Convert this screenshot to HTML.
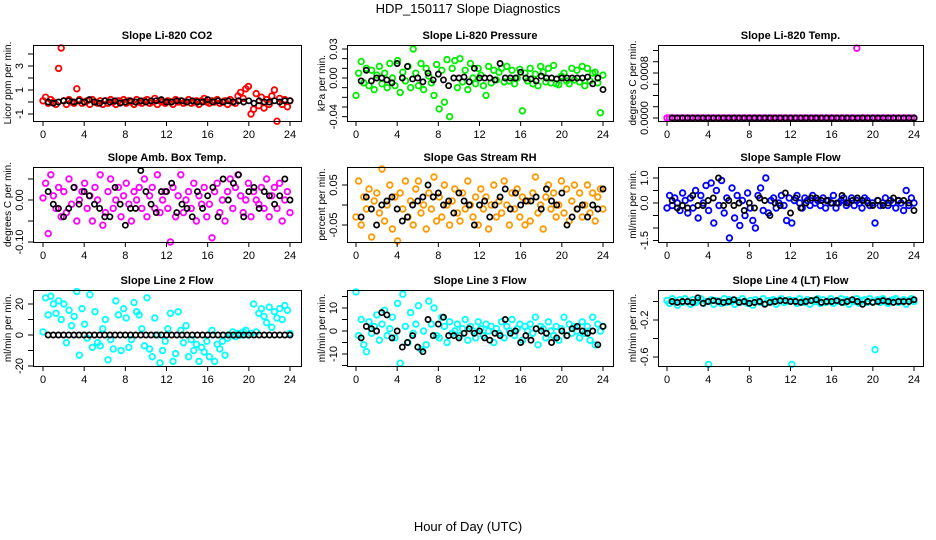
<!DOCTYPE html>
<html><head><meta charset="utf-8"><style>
body{margin:0;background:#fff;}
svg{display:block;font-family:"Liberation Sans",sans-serif;}
</style></head><body>
<svg id="chart" width="936" height="540">
<text x="468" y="13" text-anchor="middle" font-size="13">HDP_150117  Slope Diagnostics</text>
<text x="468" y="531" text-anchor="middle" font-size="13">Hour of Day (UTC)</text>
</svg>
<script>
// ---- data (colored = all slopes, black = hourly/half-hourly points) ----
const xTicks = [0,4,8,12,16,20,24];
const co2Color = [0.1,0.4,-0.1,0.2,0,-0.2,2.8,4.5, 0.1,-0.2,0.2,0,-0.1,1.1,0.2,-0.1, 0,0.1,-0.2,0.2,0,-0.1,0.1,-0.2, 0.1,-0.1,0.2,0,-0.2,0.1,0,0.2, -0.1,0.1,0,-0.2,0.2,0,-0.1,0.1, 0.2,-0.1,0,0.3,-0.2,0.1,0,-0.1, 0.1,0,-0.2,0.2,0,0.1,-0.1,0, 0.2,-0.1,0,0.1,-0.2,0.1,0.3,0, -0.1,0.1,0,0.2,-0.1,0,0.1,-0.2, 0.2,0,-0.1,0.5,0.8,0.3,1.1,1.3, -1.0,-0.6,0.7,-0.3,0.4,-0.5,0.2,-0.2, 0.5,1.0,-1.6,0.3,-0.2,0.2,-0.4,0.1];
const co2Black = [0,-0.1,0,0.1,0.1,0,0.1,0,0.2,0,-0.1,0.1,0,0.1,-0.1,0,0.1,0,0.1,0,0.1,0.1,0.2,0,0,0.1,0.1,0,0.1,0,0,0.2,0,0.1,0,0.1,0,0.1,0,0.1,-0.1,0.1,0,0,0.1,0,0.1,0.1];
const presColor = [-18,5,17,-5,10,-8,8,-12, 3,12,-6,5,-10,15,0,-8, 18,-15,6,-3,12,-10,30,5, -8,15,-12,10,2,-5,-18,14, -32,8,-25,19,-40,10,18,-10, 20,-4,8,-12,15,0,-6,10, 3,-8,-18,12,-5,8,-2,6, 10,-4,12,-3,8,-6,0,9, -34,5,-3,10,-6,4,-8,12, 6,-4,10,-5,13,-6,-7,2, 5,-3,-6,10,-2,8,-4,12, -8,10,-3,5,6,-5,-36,3];
const presBlack = [-3,8,-3,0,0,-2,-5,15,0,12,-1,0,-4,5,-2,4,-2,-8,0,0,1,-4,10,0,0,0,-2,15,0,0,0,6,0,-1,-3,2,0,0,-1,0,0,0,0,0,1,-6,0,-12];
const tempColor = [0,0,0,0,0,0,0,0,0,0,0,0,0,0,0,0,0,0,0,0,0,0,0,0,0,0,0,0,0,0,0,0,0,0,0,0,0,0,0,0,0,0,0,0,0,0,0,0,0,0,0,0,0,0,0,0,0,0,0,0,0,0,0,0,0,0,0,0,0,0,0,0,0,0.00124,0,0,0,0,0,0,0,0,0,0,0,0,0,0,0,0,0,0,0,0,0,0];
const tempBlack = [0,0,0,0,0,0,0,0,0,0,0,0,0,0,0,0,0,0,0,0,0,0,0,0,0,0,0,0,0,0,0,0,0,0,0,0,0,0,0,0,0,0,0,0,0,0,0,0];
const ambColor = [0.5,4,-8,6,1,-2,3,-4, 2,-3,5,-1,3,-5,0,2, 4,-2,1,-5,3,0,6,-6, -3,2,5,-2,0,3,-4,1, 4,-1,-5,2,0,3,-2,5, -4,1,3,-2,6,-3,0,2, -2,-10,3,-4,1,6,-3,0, 2,-2,4,-5,1,-1,3,-4, -1,-9,2,4,-3,0,-5,2, 5,-2,3,6,1,-3,0,4, -4,2,0,-1,3,-2,5,-4, 1,3,-2,4,-5,0,2,-3];
const ambBlack = [2,-1,-2,-4,-2,3,-1,2,1,-1,-2,-4,-4,3,-1,-6,-2,-2,7,2,-1,-3,2,2,4,-3,-1,-2,-4,2,-2,1,3,-4,5,0,4,6,-4,2,3,-2,2,1,-1,1,5,0];
const rhColor = [-3,6,-5,2,-1,4,-8,1, 3,-2,9,-4,0,5,-6,2, -9,3,-1,6,-3,1,-5,4, 6,-2,0,-6,3,-1,7,-4, 2,-3,5,0,-5,1,4,-2, -4,3,-1,6,0,-3,2,-5, 4,-1,2,-6,0,5,-3,1, -2,6,0,-5,3,-1,4,-3, 2,-5,1,-4,3,7,-2,0, -6,2,5,-1,3,-3,0,6, -2,4,-4,1,5,-1,3,-3, 0,5,-2,3,-4,2,4,-1];
const rhBlack = [-3,2,-1,-5,0,1,2,-1,-4,-3,0,1,2,5,2,3,0,1,-2,3,1,0,-5,0,1,-3,0,2,4,-1,3,0,1,1,2,-1,4,1,0,3,-5,-3,-1,0,-3,0,-1,4];
const sampColor = [-2,3,-1,2,0,-3,4,1, -4,2,-2,5,-6,3,0,7, -3,8,-8,5,-1,9,-4,2, -14,6,-6,3,-9,1,-5,4, -2,-7,-10,3,6,-3,10,-4, 1,2,-2,0,3,-1,-7,2, -8,1,3,0,-2,2,1,-1, 3,0,1,-1,2,-2,1,0, 3,-2,0,1,2,-1,0,2, -1,1,0,-2,2,1,-1,0, -8,1,-1,0,2,-1,1,0, -2,1,0,-3,5,-1,2,0];
const sampBlack = [1,-2,-1,-2,3,-1,-1,1,2,10,-1,1,-1,0,-3,0,-2,2,1,-5,0,-1,4,-4,2,-2,0,2,2,1,1,0,0,3,0,1,2,1,0,-1,1,-1,0,2,1,1,0,-3];
const l2Color = [2,24,13,25,20,14,22,10, 20,-5,16,6,12,28,-13,17, 7,-2,26,-8,15,-5,-7,4, 10,-16,-3,-9,22,13,-10,17, 11,-8,-3,21,15,13,4,-7, 24,-9,-14,11,0,-18,-10,-4, 4,14,-17,-12,15,3,-5,6, -14,-3,-10,-6,-17,-8,-11,-4, -14,3,-17,-6,-9,-4,-13,-2, 0,2,-1,1,0,2,3,0, 1,20,2,14,17,12,8,18, 5,15,11,17,10,19,16,1];
const l2Black = [0,0,0,0,0,0,0,0,0,0,0,0,0,0,0,0,0,0,0,0,0,0,0,0,0,0,0,0,0,0,0,0,0,0,0,0,0,0,0,0,0,0,0,0,0,0,0,0];
const l3Color = [17,-2,5,-6,-9,4,-1,2, 7,-4,3,9,-2,1,6,-3, 12,-14,16,2,-5,8,-1,3, 11,-8,0,-6,13,3,10,-2, -3,6,2,-5,4,-1,0,3, -2,1,5,-4,2,0,-3,4, 1,-2,3,0,2,-5,1,-1, 4,-3,2,0,5,-2,1,3, -4,2,0,3,-1,6,-6,2, 1,-3,4,0,-2,2,-4,1, 6,-2,3,-1,2,0,-3,4, -1,2,-4,6,-6,3,0,2];
const l3Black = [-3,2,1,0,8,7,-3,0,-7,-5,-2,-7,-9,5,-2,3,6,-2,-2,-3,-1,1,-1,0,-3,-4,-1,-2,5,-1,0,-5,-2,-4,1,0,-1,-5,-3,0,-2,1,2,0,-1,0,-6,2];
const l4Color = [1,-2,3,0,-4,2,-1,3, 0,-3,2,-1,1,3,-2,0, -68,2,-3,1,0,-2,3,-1, 2,0,-3,1,-1,3,0,-2, 1,-4,2,0,-1,3,-2,1, 0,2,-3,1,3,-1,0,2, -68,1,-2,3,0,-1,2,-3, 1,0,3,-2,2,-1,0,3, -2,1,0,3,-1,2,-3,1, 0,3,-2,1,2,-1,3,0, -52,2,-1,3,0,-2,1,2, 3,-1,0,2,-3,1,3,0];
const l4Black = [0,-1,0,0,-1,4,-2,0,1,0,-1,0,2,-1,0,-2,-1,0,-3,-1,0,1,1,0,0,-1,0,1,2,-1,0,0,1,-1,0,2,0,-3,0,-1,0,1,0,-1,0,0,0,2];

// ---- layout (positions only) ----
const cols=[{l:33,r:301,x0:43,x24:290},{l:347,r:613,x0:356,x24:603},{l:658,r:923,x0:667,x24:914}];
const rows=[{t:45,b:121},{t:167,b:242},{t:290,b:366}];
const panels=[
 {name:'co2',title:'Slope Li-820 CO2',yl:'Licor ppm per min.',c:0,r:0,col:'#ff0000',cv:co2Color,bv:co2Black,s:1,vA:-1,yA:114,vB:3,yB:66,ticks:[-1,0,1,2,3,4],labs:[-1,1,3],fmt:v=>String(v)},
 {name:'pressure',title:'Slope Li-820 Pressure',yl:'kPa per min.',c:1,r:0,col:'#00ee00',cv:presColor,bv:presBlack,s:0.001,vA:0,yA:78,vB:0.03,yB:49,ticks:[-0.04,-0.03,-0.02,-0.01,0,0.01,0.02,0.03],labs:[-0.04,0,0.03],fmt:v=>v.toFixed(2)},
 {name:'li820-temp',title:'Slope Li-820 Temp.',yl:'degrees C per min.',c:2,r:0,col:'#ff00ff',cv:tempColor,bv:tempBlack,s:1,vA:0,yA:118,vB:0.0008,yB:73,ticks:[0,0.0002,0.0004,0.0006,0.0008,0.001,0.0012],labs:[0,0.0008],fmt:v=>v.toFixed(4)},
 {name:'amb-box-temp',title:'Slope Amb. Box Temp.',yl:'degrees C per min.',c:0,r:1,col:'#ff00ff',cv:ambColor,bv:ambBlack,s:0.01,vA:0,yA:200,vB:-0.1,yB:242,ticks:[-0.1,-0.05,0,0.05],labs:[-0.1,0],fmt:v=>v.toFixed(2)},
 {name:'gas-stream-rh',title:'Slope Gas Stream RH',yl:'percent per min.',c:1,r:1,col:'#ff9900',cv:rhColor,bv:rhBlack,s:0.01,vA:0,yA:205,vB:0.05,yB:185,ticks:[-0.05,0,0.05],labs:[-0.05,0.05],fmt:v=>v.toFixed(2)},
 {name:'sample-flow',title:'Slope Sample Flow',yl:'ml/min per min.',c:2,r:1,col:'#0000ff',cv:sampColor,bv:sampBlack,s:0.1,vA:0,yA:203,vB:1,yB:178,ticks:[-1.5,-1,-0.5,0,0.5,1],labs:[-1.5,0,1],fmt:v=>v.toFixed(1)},
 {name:'line2-flow',title:'Slope Line 2 Flow',yl:'ml/min per min.',c:0,r:2,col:'#00ffff',cv:l2Color,bv:l2Black,s:1,vA:0,yA:335,vB:20,yB:304,ticks:[-20,-10,0,10,20],labs:[-20,0,20],fmt:v=>String(v)},
 {name:'line3-flow',title:'Slope Line 3 Flow',yl:'ml/min per min.',c:1,r:2,col:'#00ffff',cv:l3Color,bv:l3Black,s:1,vA:0,yA:331,vB:10,yB:308,ticks:[-15,-10,-5,0,5,10,15],labs:[-10,0,10],fmt:v=>String(v)},
 {name:'line4-flow',title:'Slope Line 4 (LT) Flow',yl:'ml/min per min.',c:2,r:2,col:'#00ffff',cv:l4Color,bv:l4Black,s:0.01,vA:-0.2,yA:320,vB:-0.6,yB:357,ticks:[-0.6,-0.4,-0.2,0],labs:[-0.6,-0.2],fmt:v=>v.toFixed(1)}
];
const NS='http://www.w3.org/2000/svg';
const svg=document.getElementById('chart');
function mk(tag,attrs,parent){const e=document.createElementNS(NS,tag);for(const k in attrs)e.setAttribute(k,attrs[k]);(parent||svg).appendChild(e);return e;}
panels.forEach(p=>{
 const C=cols[p.c],R=rows[p.r];
 const g=mk('g',{});
 
 
 const xs=v=>C.x0+(C.x24-C.x0)*v/24;
 const ys=v=>p.yA+(p.yB-p.yA)*(v-p.vA)/(p.vB-p.vA);
 const t=mk('text',{x:(C.l+C.r)/2,y:R.t-6,'text-anchor':'middle','font-size':11,'font-weight':'bold'},g);
 t.textContent=p.title;
 
 
 const n=p.cv.length;
 p.cv.forEach((v,i)=>{
  const c=mk('circle',{cx:xs(i*24/(n-1)),cy:ys(v*p.s),r:2.8,fill:'none',stroke:p.col,'stroke-width':1.8},g);
  
  
 });
 const m=p.bv.length;
 p.bv.forEach((v,i)=>{
  const c=mk('circle',{cx:xs((i+1)*24/m),cy:ys(v*p.s),r:2.6,fill:'none',stroke:'#000','stroke-width':1.7},g);
  
  
 });
 const box=mk('rect',{x:C.l+0.5,y:R.t+0.5,width:C.r-C.l,height:R.b-R.t,fill:'none',stroke:'#000','stroke-width':1},g);
 
 
 xTicks.forEach(v=>{
  mk('line',{x1:xs(v),x2:xs(v),y1:R.b,y2:R.b+5,stroke:'#000'},g);
  const l=mk('text',{x:xs(v),y:R.b+17,'text-anchor':'middle','font-size':11},g);
  l.textContent=v;
  
  
 });
 const yt=p.ticks.map(ys);
 mk('line',{x1:C.l+0.5,x2:C.l+0.5,y1:Math.min(...yt),y2:Math.max(...yt),stroke:'#000'},g);
 p.ticks.forEach(v=>{mk('line',{x1:C.l-5,x2:C.l,y1:ys(v),y2:ys(v),stroke:'#000'},g);});
 p.labs.forEach(v=>{
  const x=C.l-10,y=ys(v);
  const l=mk('text',{x:x,y:y,'text-anchor':'middle','font-size':11,transform:`rotate(-90 ${x} ${y})`},g);
  l.textContent=p.fmt(v);
  
  
 });
 const yx=C.l-22,yy=(R.t+R.b)/2;
 const yl=mk('text',{x:yx,y:yy,'text-anchor':'middle','font-size':10,transform:`rotate(-90 ${yx} ${yy})`},g);
 yl.textContent=p.yl;
 
 
});
</script>
</body></html>
